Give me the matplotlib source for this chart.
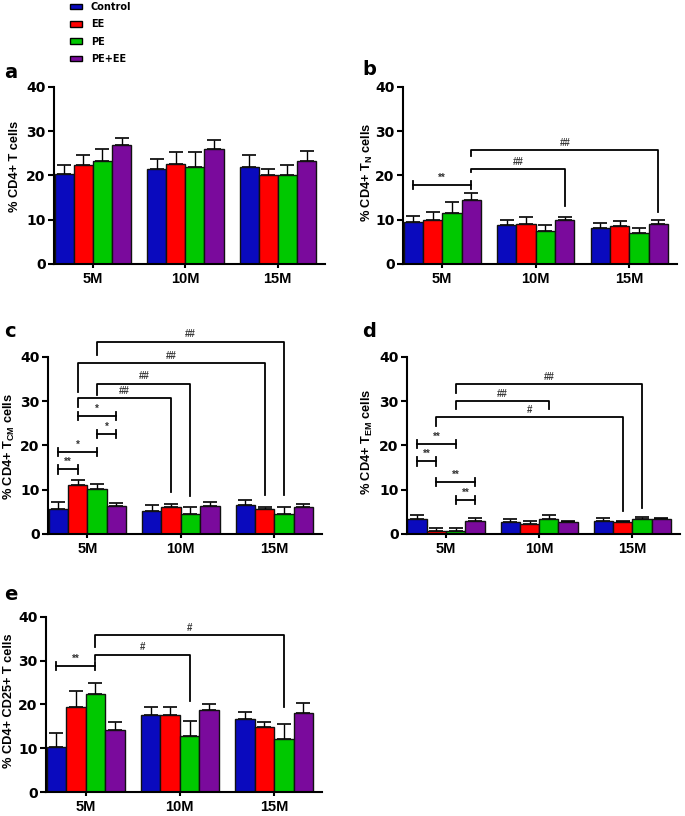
import numpy as np
import matplotlib
matplotlib.use('Agg')
import matplotlib.pyplot as plt
from matplotlib.patches import Patch

plt.rcParams['font.family'] = ['Liberation Sans', 'DejaVu Sans']
plt.rcParams['font.weight'] = 'bold'
plt.rcParams['mathtext.fontset'] = 'custom'
plt.rcParams['mathtext.rm'] = 'Liberation Sans:bold'
plt.rcParams['mathtext.bf'] = 'Liberation Sans:bold'
plt.rcParams['mathtext.it'] = 'Liberation Sans:bold'

groups = ['5M', '10M', '15M']
series = ['Control', 'EE', 'PE', 'PE+EE']
colors = ['#0A0ABE', '#FF0000', '#00C800', '#7A0A9C']

# panel a: % CD4+ T cells
a_mean = [[20.3, 21.5, 22.0], [22.3, 22.6, 20.0], [23.2, 22.0, 20.0], [27.0, 26.0, 23.3]]
a_err = [[2.1, 2.3, 2.6], [2.4, 2.8, 1.5], [2.8, 3.2, 2.3], [1.4, 2.1, 2.3]]
# panel b: % CD4+ TN cells
b_mean = [[9.5, 8.7, 8.2], [10.0, 9.0, 8.5], [11.5, 7.5, 7.0], [14.5, 10.0, 9.0]]
b_err = [[1.4, 1.3, 1.0], [1.8, 1.6, 1.1], [2.6, 1.2, 1.2], [1.5, 0.7, 1.0]]
# panel c: % CD4+ TCM cells
c_mean = [[5.6, 5.3, 6.6], [11.0, 6.2, 5.6], [10.2, 4.5, 4.5], [6.3, 6.3, 6.2]]
c_err = [[1.6, 1.3, 1.1], [1.2, 0.6, 0.6], [1.0, 1.5, 1.5], [0.8, 0.9, 0.6]]
# panel d: % CD4+ TEM cells
d_mean = [[3.5, 2.6, 2.9], [0.75, 2.2, 2.6], [0.75, 3.4, 3.5], [3.0, 2.6, 3.3]]
d_err = [[0.8, 0.9, 0.8], [0.5, 0.8, 0.3], [0.5, 0.9, 0.4], [0.6, 0.4, 0.3]]
# panel e: % CD4+ CD25+ T cells
e_mean = [[10.4, 17.5, 16.7], [19.5, 17.5, 14.8], [22.5, 12.8, 12.1], [14.2, 18.7, 18.0]]
e_err = [[3.0, 1.9, 1.5], [3.5, 1.9, 1.1], [2.5, 3.5, 3.4], [1.9, 1.4, 2.3]]

# significance marks: (group1, series1, group2, series2, level, text[, left leg end, right leg end])
b_caps = [(0, 0, 0, 3, 17.9, '**')]
b_legs = [(0, 3, 1, 3, 21.5, '##', 20.8, 13.0),
          (0, 3, 2, 3, 25.8, '##', 24.3, 11.8)]
c_caps = [(0, 0, 0, 1, 14.6, '**'), (0, 0, 0, 2, 18.5, '*'),
          (0, 2, 0, 3, 22.6, '*'), (0, 1, 0, 3, 26.6, '*')]
c_legs = [(0, 1, 1, 1, 30.7, '##', 28.8, 9.6),
          (0, 2, 1, 2, 34.0, '##', 31.5, 8.5),
          (0, 1, 2, 1, 38.6, '##', 32.2, 8.8),
          (0, 2, 2, 2, 43.5, '##', 40.5, 8.8)]
d_caps = [(0, 0, 0, 2, 20.4, '**'), (0, 0, 0, 1, 16.4, '**'),
          (0, 1, 0, 3, 11.8, '**'), (0, 2, 0, 3, 7.7, '**')]
d_legs = [(0, 1, 2, 1, 26.4, '#', 24.3, 5.1),
          (0, 2, 1, 2, 30.0, '##', 28.2, 28.2),
          (0, 2, 2, 2, 33.8, '##', 31.9, 5.8)]
e_caps = [(0, 0, 0, 2, 28.8, '**')]
e_legs = [(0, 2, 1, 2, 31.4, '#', 30.1, 20.9),
          (0, 2, 2, 2, 35.8, '#', 33.2, 19.4)]

W, H = 685, 816
bw = 0.207


def xpos(g, s):
    return g + (s - 1.5) * bw


def draw_panel(ax, means, errs, ylabel, letter, caps, legs, lab_xy, let_xy):
    x = np.arange(len(groups))
    for s in range(len(series)):
        xs = x + (s - 1.5) * bw
        ax.bar(xs, means[s], bw, color=colors[s], edgecolor='#111111', linewidth=1.0, zorder=2)
        ax.errorbar(xs, means[s], yerr=[np.zeros(len(groups)), errs[s]], fmt='none',
                    ecolor='black', elinewidth=1.0, capsize=5, capthick=1.2, zorder=1)
    ax.set_xlim(-0.42, 2.51)
    ax.set_ylim(0, 40)
    ax.set_yticks([0, 10, 20, 30, 40])
    ax.set_xticks(x)
    ax.set_xticklabels(groups)
    for sp in ['top', 'right']:
        ax.spines[sp].set_visible(False)
    for sp in ['left', 'bottom']:
        ax.spines[sp].set_linewidth(1.5)
    ax.tick_params(axis='both', width=1.5, length=4)
    ax.tick_params(axis='x', length=3, pad=3, labelsize=10.5)
    ax.tick_params(axis='y', pad=2)
    for t in ax.get_yticklabels():
        t.set_fontfamily('DejaVu Sans')
        t.set_fontsize(10)
        t.set_fontweight('bold')
    ax.set_ylabel(ylabel, fontsize=9.2, fontweight='bold', va='center', ha='center')
    ax.yaxis.set_label_coords(lab_xy[0] / W, 1 - lab_xy[1] / H, transform=fig.transFigure)
    fig.text(let_xy[0] / W, 1 - let_xy[1] / H, letter, fontsize=14,
             fontfamily='DejaVu Sans', fontweight='bold', va='baseline', ha='left')
    for g1, s1, g2, s2, y, txt in caps:
        x1, x2 = xpos(g1, s1), xpos(g2, s2)
        ax.plot([x1, x2], [y, y], color='black', lw=1.3, clip_on=False, zorder=3)
        ax.plot([x1, x1], [y - 0.95, y + 0.95], color='black', lw=1.3, clip_on=False, zorder=3)
        ax.plot([x2, x2], [y - 0.95, y + 0.95], color='black', lw=1.3, clip_on=False, zorder=3)
        ax.text((x1 + x2) / 2, y + 0.5, txt, ha='center', va='bottom', fontsize=7,
                color='#333333', clip_on=False)
    for g1, s1, g2, s2, y, txt, yl, yr in legs:
        x1, x2 = xpos(g1, s1), xpos(g2, s2)
        ax.plot([x1, x1, x2, x2], [yl, y, y, yr], color='black', lw=1.3,
                clip_on=False, zorder=3)
        ax.text((x1 + x2) / 2, y + 0.5, txt, ha='center', va='bottom', fontsize=7,
                color='#333333', clip_on=False)


fig = plt.figure(figsize=(6.85, 8.16), dpi=100)
ax_a = fig.add_axes([0.0788, 0.6765, 0.3956, 0.2169])
ax_b = fig.add_axes([0.5883, 0.6765, 0.4000, 0.2169])
ax_c = fig.add_axes([0.0701, 0.3456, 0.4000, 0.2169])
ax_d = fig.add_axes([0.5940, 0.3456, 0.3985, 0.2169])
ax_e = fig.add_axes([0.0672, 0.0294, 0.4030, 0.2145])

draw_panel(ax_a, a_mean, a_err, '% CD4+ T cells', 'a', [], [], (15, 166), (4, 78))
draw_panel(ax_b, b_mean, b_err, r'% CD4+ T$_{\mathrm{N}}$ cells', 'b', b_caps, b_legs,
           (367, 172), (362, 75))
draw_panel(ax_c, c_mean, c_err, r'% CD4+ T$_{\mathrm{CM}}$ cells', 'c', c_caps, c_legs,
           (9, 447), (4, 337))
draw_panel(ax_d, d_mean, d_err, r'% CD4+ T$_{\mathrm{EM}}$ cells', 'd', d_caps, d_legs,
           (367, 442), (362, 337))
draw_panel(ax_e, e_mean, e_err, '% CD4+ CD25+ T cells', 'e', e_caps, e_legs,
           (9, 701), (4, 600))

handles = [Patch(facecolor=colors[i], edgecolor='black', linewidth=1.0, label=series[i])
           for i in range(len(series))]
fig.legend(handles=handles, loc='upper left', bbox_to_anchor=(70 / W, 1 - 2 / H),
           frameon=False, handlelength=1.25, handleheight=0.55,
           labelspacing=0.75, borderpad=0, borderaxespad=0, handletextpad=0.9,
           prop={'family': 'DejaVu Sans', 'weight': 'bold', 'size': 7})

fig.savefig('out.png', dpi=100)
